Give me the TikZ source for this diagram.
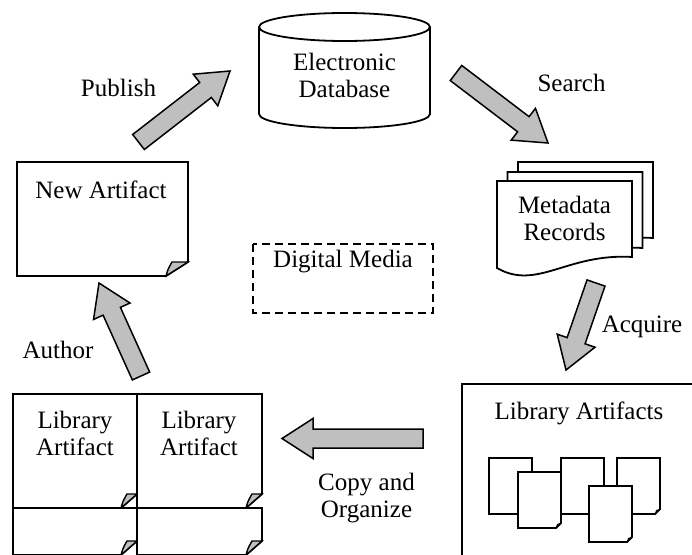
\documentclass[tikz,border=0pt]{standalone}
\usepackage{fontspec}
\setmainfont{Liberation Serif}
\usetikzlibrary{calc}
\tikzset{lbl/.style={font=\fontsize{25}{27}\selectfont, align=center, inner sep=0pt}}
\tikzset{page/.style={draw, line width=1.8pt, fill=white}}
\tikzset{curl/.style={draw, line width=1.4pt, fill=black!25}}
\tikzset{flow/.style={draw, line width=1.5pt, fill=black!25,
    to path={let \p1=(\tikztostart), \p2=(\tikztotarget), \p3=($(\p2)!31pt!(\p1)$) in
      ($(\p1)!9.5pt!90:(\p2)$) -- ($(\p3)!9.5pt!-90:(\p1)$) -- ($(\p3)!20pt!-90:(\p1)$) -- (\p2)
      -- ($(\p3)!20pt!90:(\p1)$) -- ($(\p3)!9.5pt!90:(\p1)$) -- ($(\p1)!9.5pt!-90:(\p2)$) -- cycle}}}
% page with curled corner: left, top, right, bottom, fold width
\newcommand{\artpage}[5]{%
  \draw[page] (#1,#2) -- (#3,#2) -- (#3,#4+14) -- (#3-#5,#4) -- (#1,#4) -- cycle;
  \draw[curl] (#3-#5,#4) .. controls (#3-#5+2,#4+7) .. (#3-#5+6,#4+14) -- (#3,#4+14) -- cycle;}
% wavy record: left, top
\newcommand{\recpage}[2]{%
  \draw[page] (#1,#2) -- (#1+135,#2) -- (#1+135,#2-76)
    .. controls (#1+70,#2-72) and (#1+40,#2-110) .. (#1,#2-87) -- cycle;}
% small page: left, top
\newcommand{\smalldoc}[2]{%
  \draw[page] (#1,#2) -- (#1+43,#2) -- (#1+43,#2-51) -- (#1+38,#2-56) -- (#1,#2-56) -- cycle;
  \fill (#1+38,#2-56) -- (#1+43,#2-51) -- (#1+39,#2-52) -- cycle;}

\begin{document}
\begin{tikzpicture}[x=1pt, y=1pt]
  \useasboundingbox (0,0) rectangle (692,-554);
  \clip (0,0) rectangle (692,-554);

  % database
  \draw[page] (259,-27) -- (259,-114) arc[start angle=180, end angle=360, x radius=85.5, y radius=14]
    -- (430,-27) arc[start angle=0, end angle=180, x radius=85.5, y radius=14] -- cycle;
  \draw[line width=1.8pt] (259,-27) arc[start angle=180, end angle=360, x radius=85.5, y radius=14];
  \node[lbl] (edb) at (344.5,-75.5) {Electronic\\Database};

  % records
  \recpage{518}{-162}
  \recpage{507.5}{-172}
  \recpage{497}{-181}
  \node[lbl] (meta) at (564.5,-218) {Metadata\\Records};

  % new artifact
  \artpage{17}{-162}{188}{-276}{22}
  \node[lbl] (newart) at (101,-190) {New Artifact};

  % digital media
  \draw[line width=1.4pt, dash pattern=on 8pt off 5pt] (253,-244) rectangle (433,-313);
  \node[lbl] (dig) at (343,-262) {Digital Media};

  % library artifacts
  \draw[line width=1.8pt] (462,-384) rectangle (710,-570);
  \node[lbl] (libs) at (579,-413) {Library Artifacts};
  \smalldoc{489}{-458}
  \smalldoc{518}{-472}
  \smalldoc{561}{-458}
  \smalldoc{617}{-458}
  \smalldoc{589}{-486}

  % library artifact stack
  \artpage{13}{-394}{137}{-508}{16}
  \artpage{137}{-394}{262}{-508}{16}
  \artpage{13}{-508}{137}{-555}{16}
  \artpage{137}{-508}{262}{-555}{16}
  \node[lbl] (lib1) at (75,-433.5) {Library\\Artifact};
  \node[lbl] (lib2) at (199,-433.5) {Library\\Artifact};

  % arrows
  \coordinate (pubA) at (138.5,-142);
  \coordinate (pubB) at (230,-71);
  \coordinate (srchA) at (456,-73);
  \coordinate (srchB) at (548,-143);
  \coordinate (acqA) at (596,-283);
  \coordinate (acqB) at (566,-370);
  \coordinate (copyA) at (423,-438.5);
  \coordinate (copyB) at (282,-438.5);
  \coordinate (authA) at (141,-376);
  \coordinate (authB) at (99,-283);

  \draw[flow] (pubA) to (pubB);
  \draw[flow] (srchA) to (srchB);
  \draw[flow] (acqA) to (acqB);
  \draw[flow] (copyA) to (copyB);
  \draw[flow] (authA) to (authB);

  \node[lbl] (pubL) at (118.5,-88) {Publish};
  \node[lbl] (srchL) at (571.5,-83) {Search};
  \node[lbl] (acqL) at (642,-327) {Acquire};
  \node[lbl] (copyL) at (366.5,-498.5) {Copy and\\Organize};
  \node[lbl] (authL) at (58,-350) {Author};
\end{tikzpicture}
\end{document}
